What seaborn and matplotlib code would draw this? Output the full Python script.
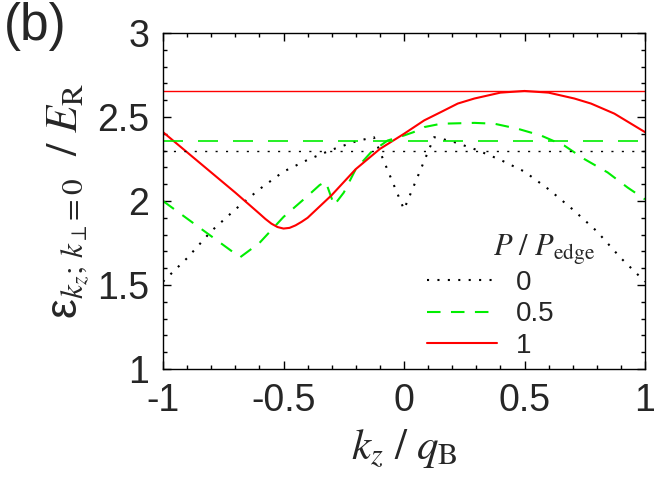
import matplotlib
matplotlib.use("Agg")
import matplotlib.pyplot as plt
import seaborn as sns
from matplotlib.ticker import MultipleLocator, FuncFormatter

# curves, k_z / q_B vs energy / E_R
kz_p0 = [-1, -0.9, -0.8, -0.7, -0.6, -0.5, -0.4, -0.3, -0.2, -0.125, 0,
         0.125, 0.2, 0.3, 0.4, 0.5, 0.6, 0.7, 0.8, 0.9, 1]
e_p0 = [1.52, 1.66, 1.82, 1.95, 2.07, 2.175, 2.245, 2.305, 2.355, 2.38, 1.95,
        2.38, 2.355, 2.305, 2.245, 2.175, 2.07, 1.95, 1.82, 1.66, 1.52]

kz_p05 = [-1, -0.68, -0.6, -0.5, -0.4, -0.35, -0.325, -0.29, -0.25, -0.2,
          -0.137, -0.068, 0, 0.04, 0.084, 0.154, 0.292, 0.375, 0.472, 0.568,
          0.665, 0.748, 0.845, 0.928, 1]
e_p05 = [2.00, 1.665, 1.75, 1.905, 2.03, 2.095, 2.115, 1.975, 2.05, 2.19,
         2.29, 2.36, 2.39, 2.41, 2.44, 2.46, 2.465, 2.46, 2.43, 2.39,
         2.33, 2.25, 2.17, 2.08, 2.01]

kz_p1 = [-1, -0.9, -0.8, -0.7, -0.6, -0.575, -0.55, -0.525, -0.5, -0.475,
         -0.45, -0.425, -0.4, -0.3, -0.2, -0.1, 0, 0.084, 0.154, 0.223,
         0.292, 0.4, 0.5, 0.6, 0.707, 0.776, 0.873, 1]
e_p1 = [2.41, 2.29, 2.17, 2.05, 1.925, 1.893, 1.865, 1.845, 1.836, 1.840,
        1.855, 1.876, 1.90, 2.035, 2.19, 2.31, 2.40, 2.48, 2.53, 2.58,
        2.61, 2.645, 2.655, 2.645, 2.61, 2.58, 2.52, 2.41]

# horizontal reference levels
levels = [2.30, 2.36, 2.655]
labels = ["0", "0.5", "1"]
colors = ["black", "#00ee00", "#ff0000"]

sns.set_style("ticks")
plt.rcParams["font.family"] = ["Liberation Sans", "DejaVu Sans"]
plt.rcParams["mathtext.fontset"] = "stix"
plt.rcParams["axes.unicode_minus"] = False

fig = plt.figure(figsize=(6.63, 4.92), dpi=100)
ax = fig.add_axes([163 / 663, 1 - 369 / 492, 482 / 663, 336 / 492])

curve_styles = [(0, (1, 4)), (0, (6.5, 5)), "-"]
horiz_styles = [(0, (1.5, 6)), (0, (12, 9)), "-"]
horiz_widths = [1.0, 1.2, 1.0]

for kz, e, lab, col, ls in zip([kz_p0, kz_p05, kz_p1], [e_p0, e_p05, e_p1],
                               labels, colors, curve_styles):
    sns.lineplot(x=kz, y=e, ax=ax, color=col, linestyle=ls, linewidth=1.5,
                 label=lab, sort=False)

for lev, col, ls, lw in zip(levels, colors, horiz_styles, horiz_widths):
    ax.axhline(lev, color=col, linestyle=ls, linewidth=lw)

ax.set_xlim(-1, 1)
ax.set_ylim(1, 3)
ax.xaxis.set_major_locator(MultipleLocator(0.5))
ax.xaxis.set_minor_locator(MultipleLocator(0.1))
ax.yaxis.set_major_locator(MultipleLocator(0.5))
ax.yaxis.set_minor_locator(MultipleLocator(0.1))
fmt = FuncFormatter(lambda v, p: "%g" % v)
ax.xaxis.set_major_formatter(fmt)
ax.yaxis.set_major_formatter(fmt)
ax.tick_params(which="both", direction="in", top=True, right=True,
               width=1, color="black")
ax.tick_params(which="major", length=6, labelsize=27, pad=10)
ax.tick_params(which="minor", length=3)
for sp in ax.spines.values():
    sp.set_visible(True)
    sp.set_linewidth(1)
    sp.set_color("black")

ax.set_xlabel(r"$k_z\ /\ q_\mathrm{B}$", fontsize=31, labelpad=6)
ax.set_ylabel(r"ε$_{k_z;\,k_\perp\!=0}\ \ /\ E_\mathrm{R}$", fontsize=32,
              labelpad=4)

leg = ax.legend(loc="upper left", bbox_to_anchor=(0.548, 0.295),
                frameon=False, fontsize=20, handlelength=2.5,
                handletextpad=0.7, labelspacing=0.2, borderpad=0,
                borderaxespad=0)
ax.text(0.79, 0.338, r"$P\ /\ P_\mathrm{edge}$", transform=ax.transAxes,
        fontsize=22, ha="center", va="baseline")

fig.text(0.006, 0.995, "(b)", fontsize=37, ha="left", va="top")

fig.savefig("out.png", dpi=100)
